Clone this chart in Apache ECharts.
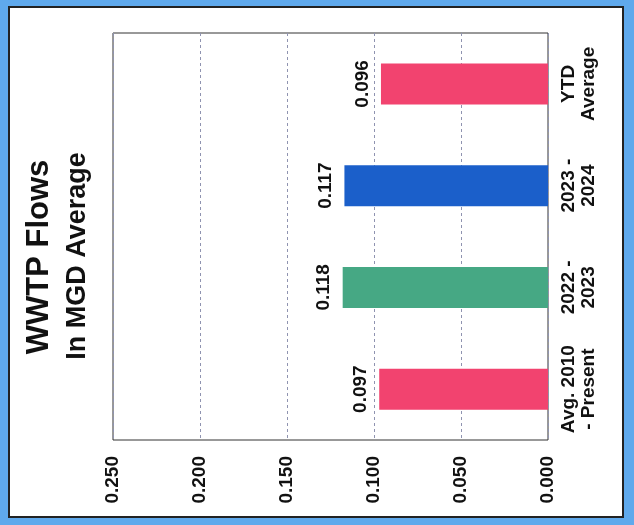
<!DOCTYPE html>
<html>
<head>
<meta charset="utf-8">
<script src="https://cdn.jsdelivr.net/npm/echarts@6/dist/echarts.min.js"></script>
<style>
html,body{margin:0;padding:0;background:#5fa9ec;}
#c{width:634px;height:525px;}
</style>
</head>
<body>
<div id="c"></div>
<script>
const categories = ['Avg. 2010\n- Present', '2022 -\n2023', '2023 -\n2024', 'YTD\nAverage'];
const values = [0.097, 0.118, 0.117, 0.096];
const barColors = ['#f2436f', '#46a884', '#1b5fca', '#f2436f'];
const titleLine1 = 'WWTP Flows';
const titleLine2 = 'In MGD Average';

const chart = echarts.init(document.getElementById('c'));
const fontFam = 'Liberation Sans, Arial, sans-serif';
chart.setOption({
  animation: false,
  backgroundColor: 'transparent',
  graphic: [
    {type:'rect', z:-10, shape:{x:9, y:7, width:614, height:510}, style:{fill:'#ffffff', stroke:'#222', lineWidth:2}},
    {type:'text', x:39, y:257, rotation:Math.PI/2, style:{text:titleLine1, font:'bold 31px '+fontFam, fill:'#111', align:'center', verticalAlign:'middle'}},
    {type:'text', x:78, y:256, rotation:Math.PI/2, style:{text:titleLine2, font:'bold 27px '+fontFam, fill:'#111', align:'center', verticalAlign:'middle'}}
  ],
  grid: {left:113, right:86, top:33, bottom:85, show:true, borderColor:'#333', borderWidth:1, backgroundColor:'#fff'},
  xAxis: {
    type:'value', min:0, max:0.25, interval:0.05, inverse:true, position:'bottom',
    axisLine:{show:false}, axisTick:{show:false},
    splitLine:{show:true, lineStyle:{color:'#8f93b0', width:1, type:[3,3]}},
    axisLabel:{rotate:90, margin:16, fontFamily:fontFam, fontWeight:'bold', fontSize:19, color:'#111',
      formatter:v=>v.toFixed(3)}
  },
  yAxis: {
    type:'category', data:categories, position:'right',
    axisLine:{show:false}, axisTick:{show:false},
    axisLabel:{interval:0, hideOverlap:false, rotate:90, margin:11, fontFamily:fontFam, fontWeight:'bold', fontSize:19, color:'#111', lineHeight:20}
  },
  series: [{
    type:'bar', barWidth:41,
    data: values.map((v,i)=>({value:v, itemStyle:{color:barColors[i]}})),
    label:{show:true, position:'left', rotate:90, align:'center', verticalAlign:'bottom', distance:9,
      fontFamily:fontFam, fontWeight:'bold', fontSize:19, color:'#111', formatter:p=>p.value.toFixed(3)}
  }]
});
</script>
</body>
</html>
